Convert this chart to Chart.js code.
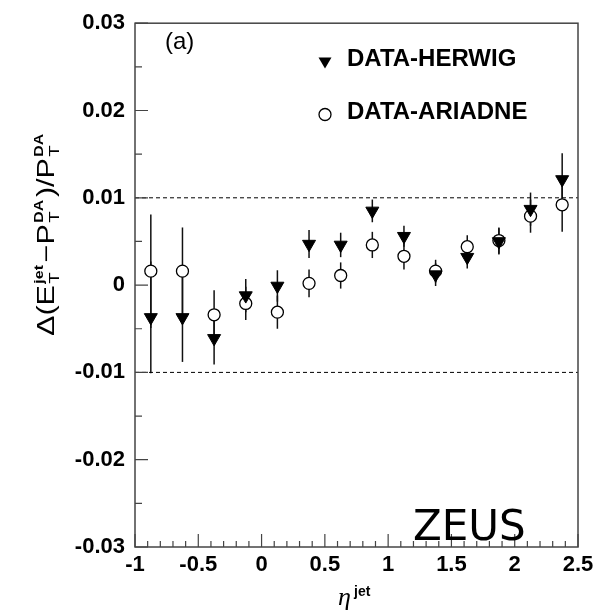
<!DOCTYPE html>
<html>
<head>
<meta charset="utf-8">
<script src="https://cdn.jsdelivr.net/npm/chart.js@4.4.1/dist/chart.umd.min.js"></script>
<style>
  html, body { margin: 0; padding: 0; background: #fff; }
  canvas { display: block; }
</style>
</head>
<body>
<canvas id="chart" width="604" height="612"></canvas>
<script>
// eta bin centres and the two data-MC differences with their errors
const etaBins = [-0.875, -0.625, -0.375, -0.125, 0.125, 0.375, 0.625, 0.875, 1.125, 1.375, 1.625, 1.875, 2.125, 2.375];
const herwig = [-0.0037, -0.0037, -0.0061, -0.0012, -0.0001, 0.0047, 0.0046, 0.0085, 0.0056, 0.0012, 0.0032, 0.0050, 0.0087, 0.0121];
const herwigErr = [0.0064, 0.0051, 0.0030, 0.0019, 0.0018, 0.0016, 0.0014, 0.0013, 0.0012, 0.0013, 0.0013, 0.0015, 0.0019, 0.0030];
const ariadne = [0.0016, 0.0016, -0.0034, -0.0021, -0.0031, 0.0002, 0.0011, 0.0046, 0.0033, 0.0016, 0.0044, 0.0051, 0.0079, 0.0092];
const ariadneErr = [0.0065, 0.0050, 0.0028, 0.0019, 0.0019, 0.0016, 0.0015, 0.0015, 0.0015, 0.0013, 0.0013, 0.0015, 0.0019, 0.0031];

// axis ranges and the +-1% reference lines
const etaRange = [-1, 2.5];
const deltaRange = [-0.03, 0.03];
const refLevels = [0.01, -0.01];

const labelFont = "'Liberation Sans', Arial, sans-serif";

function toPoints(xs, ys) {
    return xs.map((x, i) => ({ x: x, y: ys[i] }));
}

// vertical error bars, drawn under the markers
const errorBars = {
    id: 'errorBars',
    beforeDatasetsDraw(chart) {
        const { ctx, scales: { x, y } } = chart;
        ctx.save();
        ctx.strokeStyle = '#111';
        ctx.lineWidth = 1.5;
        [[herwig, herwigErr], [ariadne, ariadneErr]].forEach(([vals, errs]) => {
            vals.forEach((v, i) => {
                const px = x.getPixelForValue(etaBins[i]);
                ctx.beginPath();
                ctx.moveTo(px, y.getPixelForValue(v - errs[i]));
                ctx.lineTo(px, y.getPixelForValue(v + errs[i]));
                ctx.stroke();
            });
        });
        ctx.restore();
    }
};

// frame, inward ticks, legend and the text labels
const decorations = {
    id: 'decorations',
    afterDraw(chart) {
        const { ctx, chartArea: a, scales: { x, y } } = chart;
        ctx.save();

        ctx.strokeStyle = '#444';
        ctx.lineWidth = 1.5;
        ctx.strokeRect(a.left, a.top, a.right - a.left, a.bottom - a.top);

        ctx.lineWidth = 1.2;
        ctx.beginPath();
        for (let i = 0; i <= 12; i++) {
            const py = y.getPixelForValue(deltaRange[0] + i * 0.005);
            ctx.moveTo(a.left, py);
            ctx.lineTo(a.left + (i % 2 === 0 ? 13 : 7), py);
        }
        for (let i = 0; i <= 35; i++) {
            const px = x.getPixelForValue(etaRange[0] + i * 0.1);
            ctx.moveTo(px, a.bottom);
            ctx.lineTo(px, a.bottom - (i % 5 === 0 ? 13 : 6));
        }
        ctx.stroke();

        // legend
        ctx.fillStyle = '#000';
        ctx.beginPath();
        ctx.moveTo(318.5, 57.5);
        ctx.lineTo(331.5, 57.5);
        ctx.lineTo(325, 68.5);
        ctx.closePath();
        ctx.fill();
        ctx.strokeStyle = '#000';
        ctx.lineWidth = 1.3;
        ctx.beginPath();
        ctx.arc(325, 114.5, 6, 0, Math.PI * 2);
        ctx.stroke();

        ctx.font = 'bold 24px ' + labelFont;
        ctx.textBaseline = 'alphabetic';
        ctx.fillText('DATA-HERWIG', 347, 66);
        ctx.fillText('DATA-ARIADNE', 347, 119);

        ctx.font = '24px ' + labelFont;
        ctx.fillText('(a)', 165, 49);

        ctx.font = "42px 'DejaVu Sans', sans-serif";
        ctx.fillText('ZEUS', 413, 540);

        // x title: eta^jet
        ctx.font = "italic 26px 'Liberation Serif', serif";
        ctx.fillText('\u03b7', 338, 605);
        ctx.font = 'bold 14px ' + labelFont;
        ctx.fillText('jet', 354, 596);

        // y title, rotated, pieces of main text with stacked sub/superscripts
        const parts = [
            ['\u0394(E', 'T', 'jet'],
            ['\u2212P', 'T', 'DA'],
            [')/P', 'T', 'DA']
        ];
        const mainFont = '23px ' + labelFont;
        const subFont = '14px ' + labelFont;
        const supFont = 'bold 12px ' + labelFont;
        let total = 0;
        parts.forEach(([m, sb, sp]) => {
            ctx.font = mainFont; total += ctx.measureText(m).width + 1;
            ctx.font = subFont; const w1 = ctx.measureText(sb).width;
            ctx.font = supFont; const w2 = ctx.measureText(sp).width;
            total += Math.max(w1, w2) + 2;
        });
        const stretch = 205 / total;
        ctx.translate(54, 336);
        ctx.rotate(-Math.PI / 2);
        ctx.scale(stretch, 1);
        let cx = 0;
        parts.forEach(([m, sb, sp]) => {
            ctx.font = mainFont;
            ctx.fillText(m, cx, 0);
            cx += ctx.measureText(m).width + 1;
            ctx.font = subFont;
            ctx.fillText(sb, cx, 5);
            const w1 = ctx.measureText(sb).width;
            ctx.font = supFont;
            ctx.fillText(sp, cx, -11);
            const w2 = ctx.measureText(sp).width;
            cx += Math.max(w1, w2) + 2;
        });

        ctx.restore();
    }
};

const ctx = document.getElementById('chart').getContext('2d');

new Chart(ctx, {
    type: 'scatter',
    data: {
        datasets: [
            {
                label: 'DATA-HERWIG',
                data: toPoints(etaBins, herwig),
                pointStyle: 'triangle',
                pointRotation: 180,
                pointRadius: 7.5,
                backgroundColor: '#000',
                borderColor: '#000',
                borderWidth: 1
            },
            {
                label: 'DATA-ARIADNE',
                data: toPoints(etaBins, ariadne),
                pointStyle: 'circle',
                pointRadius: 6,
                backgroundColor: '#fff',
                borderColor: '#000',
                borderWidth: 1.3
            },
            ...refLevels.map(level => ({
                label: 'ref ' + level,
                data: toPoints(etaRange, [level, level]),
                showLine: true,
                pointRadius: 0,
                borderColor: '#000',
                borderWidth: 1,
                borderDash: [4, 3]
            }))
        ]
    },
    options: {
        responsive: false,
        animation: false,
        devicePixelRatio: 1,
        layout: { padding: { left: 0, top: 17, right: 26, bottom: 0 } },
        plugins: {
            legend: { display: false },
            tooltip: { enabled: false }
        },
        scales: {
            x: {
                type: 'linear',
                min: etaRange[0],
                max: etaRange[1],
                grid: { display: false, drawTicks: false },
                border: { display: false },
                ticks: {
                    stepSize: 0.5,
                    padding: 5,
                    color: '#000',
                    font: { family: labelFont, size: 22, weight: 'bold' },
                    callback: v => String(+v.toFixed(1))
                },
                afterFit: scale => { scale.height = 65; }
            },
            y: {
                min: deltaRange[0],
                max: deltaRange[1],
                grid: { display: false, drawTicks: false },
                border: { display: false },
                ticks: {
                    stepSize: 0.01,
                    padding: 10,
                    color: '#000',
                    font: { family: labelFont, size: 22, weight: 'bold' },
                    callback: v => Math.abs(v) < 1e-9 ? '0' : v.toFixed(2)
                },
                afterFit: scale => { scale.width = 135; }
            }
        }
    },
    plugins: [errorBars, decorations]
});
</script>
</body>
</html>
